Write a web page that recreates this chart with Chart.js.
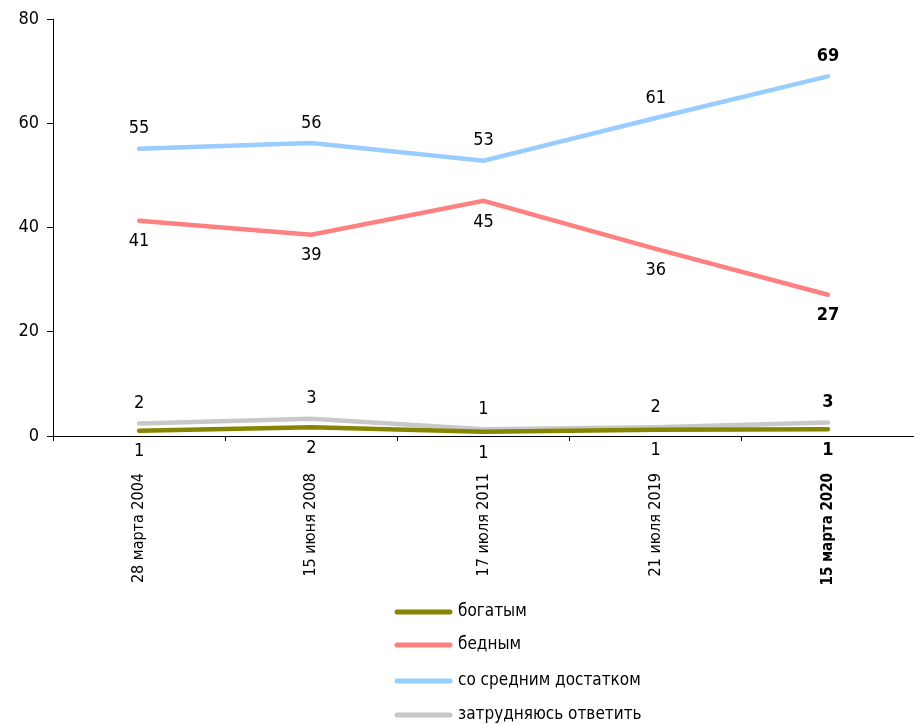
<!DOCTYPE html>
<html>
<head>
<meta charset="utf-8">
<script src="https://cdn.jsdelivr.net/npm/chart.js@4"></script>
<style>
  body { margin: 0; background: #fff; }
  canvas { display: block; }
</style>
</head>
<body>
<canvas id="mycanvas" width="914" height="725"></canvas>
<script>
var FONT = "'DejaVu Sans Condensed', 'Liberation Sans Narrow', 'DejaVu Sans', sans-serif";

var dates = ["28 марта 2004", "15 июня 2008", "17 июля 2011", "21 июля 2019", "15 марта 2020"];
var rich = [1.0, 1.7, 0.8, 1.2, 1.3];
var poor = [41.3, 38.6, 45.1, 35.9, 27.1];
var middle = [55.1, 56.2, 52.8, 61.0, 69.0];
var dontKnow = [2.4, 3.3, 1.3, 1.7, 2.6];
var yTicks = [0, 20, 40, 60, 80];

// where each series puts its value labels
var labelSide = ["below", "below", "above", "above"];

var valueLabels = {
    id: "valueLabels",
    afterDatasetsDraw: function(chart){
        var ctx = chart.ctx;
        ctx.save();
        ctx.fillStyle = "#000";
        ctx.textAlign = "center";
        ctx.textBaseline = "middle";
        chart.data.datasets.forEach(function(ds, i){
            var meta = chart.getDatasetMeta(i);
            meta.data.forEach(function(pt, j){
                var last = j === ds.data.length - 1;
                ctx.font = (last ? "bold " : "") + "18px " + FONT;
                var dy = labelSide[i] === "above" ? -20 : 21;
                ctx.fillText(String(Math.round(ds.data[j])), pt.x, pt.y + dy);
            });
        });
        ctx.restore();
    }
};

var listLegend = {
    id: "listLegend",
    afterDraw: function(chart){
        var ctx = chart.ctx;
        var rows = [612, 645, 681, 715];
        ctx.save();
        ctx.font = "17px " + FONT;
        ctx.textBaseline = "middle";
        ctx.textAlign = "left";
        chart.data.datasets.forEach(function(ds, i){
            ctx.strokeStyle = ds.borderColor;
            ctx.lineWidth = 5;
            ctx.lineCap = "round";
            ctx.beginPath();
            ctx.moveTo(397, rows[i]);
            ctx.lineTo(450, rows[i]);
            ctx.stroke();
            ctx.fillStyle = "#000";
            ctx.fillText(ds.label, 458, rows[i]);
        });
        ctx.restore();
    }
};

var chartdata = {
    labels: dates,
    datasets: [
        { label: "богатым", data: rich, borderColor: "#858500" },
        { label: "бедным", data: poor, borderColor: "#ff8080" },
        { label: "со средним достатком", data: middle, borderColor: "#99ccff" },
        { label: "затрудняюсь ответить", data: dontKnow, borderColor: "#c8c8c8" }
    ]
};
chartdata.datasets.forEach(function(ds){
    ds.borderWidth = 4.5;
    ds.tension = 0;
    ds.pointRadius = 0;
    ds.pointHoverRadius = 0;
    ds.fill = false;
    ds.borderCapStyle = "round";
});
// draw grey under olive
chartdata.datasets[3].order = 1;

var ctx = document.getElementById("mycanvas");
var lineGraph = new Chart(ctx, {
    type: "line",
    data: chartdata,
    plugins: [valueLabels, listLegend],
    options: {
        responsive: false,
        animation: false,
        devicePixelRatio: 1,
        layout: { padding: { top: 19, left: 0, right: 0, bottom: 129 } },
        plugins: { legend: { display: false }, tooltip: { enabled: false } },
        scales: {
            x: {
                offset: true,
                grid: { offset: true, drawOnChartArea: false, drawTicks: true, tickLength: 5, color: "#000" },
                border: { display: true, color: "#000", width: 1 },
                ticks: {
                    color: "#000",
                    maxRotation: 90,
                    minRotation: 90,
                    padding: 32,
                    font: function(c){
                        var bold = c.index === 4;
                        return { family: FONT, size: bold ? 15 : 16, weight: bold ? "bold" : "normal" };
                    }
                },
                afterFit: function(scale){ scale.height = 160; }
            },
            y: {
                min: 0,
                max: 80,
                afterBuildTicks: function(scale){
                    scale.ticks = yTicks.map(function(v){ return { value: v }; });
                },
                grid: { drawOnChartArea: false, drawTicks: true, tickLength: 6, color: "#000" },
                border: { display: true, color: "#000", width: 1 },
                ticks: { color: "#000", padding: 8, font: { family: FONT, size: 18 } },
                afterFit: function(scale){ scale.width = 53; }
            }
        }
    }
});
</script>
</body>
</html>
